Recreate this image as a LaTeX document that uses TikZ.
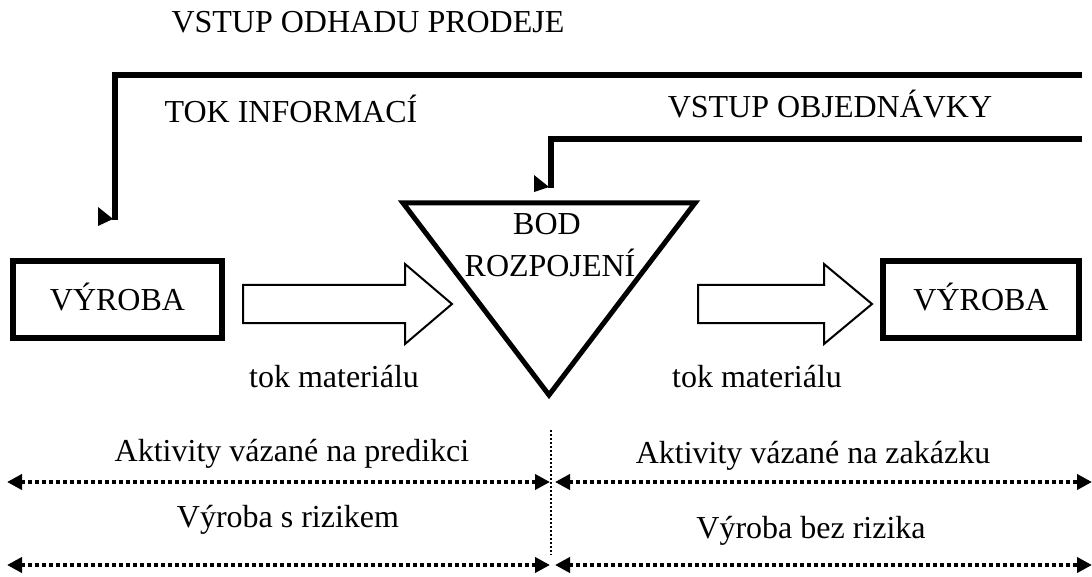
\documentclass[tikz,border=0pt]{standalone}
\usepackage{fontspec}
\setmainfont{Liberation Serif}
\usetikzlibrary{arrows.meta}
\tikzset{
  lbl/.style={anchor=base, inner sep=0pt, font=\fontsize{32}{38}\selectfont},
  prodbox/.style={draw, line width=6pt, inner sep=0pt, minimum width=#1, minimum height=77pt,
    text height=21pt, text depth=0pt, font=\fontsize{32}{38}\selectfont},
  feed/.style={line width=5.5pt, miter limit=10},
  headfill/.style={fill=black, draw=none},
  blockarrow/.style={draw, line width=2pt, fill=white, line join=miter},
  span/.style={line width=4pt, dash pattern=on 4pt off 3pt, {Triangle[length=15pt,width=15pt]}-{Triangle[length=15pt,width=15pt]}},
  divider/.style={line width=2pt, dash pattern=on 2pt off 2pt},
  bodtri/.style={draw, line width=5pt, line join=miter, miter limit=10}
}
\begin{document}
\begin{tikzpicture}[x=1pt, y=-1pt]
\useasboundingbox (0,0) rectangle (1092,577);

% labels on top
\node[lbl] (odhad) at (368,33) {VSTUP ODHADU PRODEJE};
\node[lbl] (tokinf) at (291,123) {TOK INFORMACÍ};
\node[lbl] (objed) at (830,118) {VSTUP OBJEDNÁVKY};

% feedback line 1
\coordinate (f1s) at (1082,75);
\coordinate (f1c) at (115,75);
\coordinate (f1e) at (115,220);
\draw[feed] (f1s) -- (f1c) -- (f1e);
\fill[headfill] (98,207) -- (98,226) -- (113,219) -- cycle;

% feedback line 2
\coordinate (f2s) at (1082,139);
\coordinate (f2c) at (551,139);
\coordinate (f2e) at (551,188);
\draw[feed] (f2s) -- (f2c) -- (f2e);
\fill[headfill] (534,175) -- (534,192) -- (549,187) -- cycle;

% decoupling point triangle
\coordinate (tl) at (403,203);
\coordinate (tr) at (695,203);
\coordinate (tb) at (549,395);
\draw[bodtri] (tl) -- (tr) -- (tb) -- cycle;
\node[lbl] (bod1) at (547,235) {BOD};
\node[lbl] (bod2) at (550,277) {ROZPOJENÍ};

% production boxes
\node[prodbox=209pt] (vyr1) at (117.5,299.5) {VÝROBA};
\node[prodbox=196.5pt] (vyr2) at (981,299.5) {VÝROBA};

% block arrows (material flow)
\draw[blockarrow] (243,285) -- (405,285) -- (405,264) -- (452,304) -- (405,344) -- (405,323) -- (243,323) -- cycle;
\draw[blockarrow] (698,285) -- (824,285) -- (824,264) -- (872,304) -- (824,344) -- (824,323) -- (698,323) -- cycle;
\node[lbl] (tm1) at (334,387) {tok materiálu};
\node[lbl] (tm2) at (757,387) {tok materiálu};

% bottom spans
\coordinate (d1) at (551,430);
\coordinate (d2) at (551,555);
\draw[divider] (d1) -- (d2);

\node[lbl] (akt1) at (292,461) {Aktivity vázané na predikci};
\node[lbl] (akt2) at (813,463) {Aktivity vázané na zakázku};
\node[lbl] (vr1) at (288,527) {Výroba s rizikem};
\node[lbl] (vr2) at (811,538) {Výroba bez rizika};

\coordinate (a1l) at (7,482);
\coordinate (a1m) at (550,482);
\coordinate (a1n) at (555,482);
\coordinate (a1r) at (1092,482);
\draw[span] (a1l) -- (a1m);
\draw[span] (a1n) -- (a1r);

\coordinate (a2l) at (7,565);
\coordinate (a2m) at (550,565);
\coordinate (a2n) at (555,565);
\coordinate (a2r) at (1092,565);
\draw[span] (a2l) -- (a2m);
\draw[span] (a2n) -- (a2r);
\end{tikzpicture}
\end{document}
